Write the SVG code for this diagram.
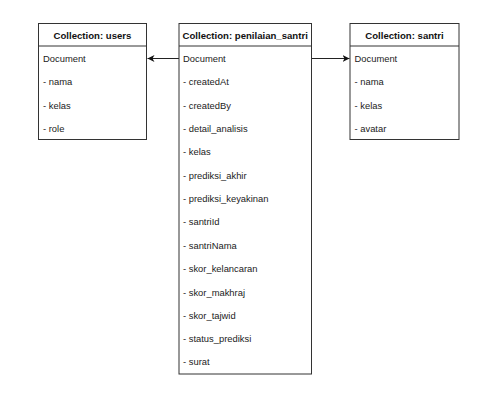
<svg xmlns="http://www.w3.org/2000/svg" width="481" height="409" viewBox="0 0 481 409">
<defs>
<style>
.box{fill:#fff;stroke:#333;stroke-width:1}
.sep{stroke:#333;stroke-width:1}
.t{font-family:"Liberation Sans",Arial,sans-serif;font-size:9.4px;fill:#222}
.h{font-family:"Liberation Sans",Arial,sans-serif;font-size:9.6px;font-weight:bold;fill:#111;text-anchor:middle}
.c{stroke:#222;stroke-width:1;fill:none}
</style>
<marker id="ah" markerWidth="8" markerHeight="8" refX="7" refY="4" orient="auto" markerUnits="userSpaceOnUse">
<path d="M0,0.5 L7,4 L0,7.5 L2,4 Z" fill="#111"/>
</marker>
</defs>
<rect width="481" height="409" fill="#fff"/>
<g id="connectors">
<line class="c" x1="179" y1="58.5" x2="147.5" y2="58.5" marker-end="url(#ah)"/>
<line class="c" x1="311.5" y1="58.5" x2="349.5" y2="58.5" marker-end="url(#ah)"/>
</g>
<g id="users">
<rect class="box" x="38.5" y="23.5" width="108" height="116"/>
<line class="sep" x1="38.5" y1="46" x2="146.5" y2="46"/>
<text class="h" x="92.5" y="38.5">Collection: users</text>
<text class="t" x="43" y="61.5">Document</text>
<text class="t" x="43" y="85">- nama</text>
<text class="t" x="43" y="108.5">- kelas</text>
<text class="t" x="43" y="131.5">- role</text>
</g>
<g id="penilaian_santri">
<rect class="box" x="179" y="23.5" width="132.5" height="350.5"/>
<line class="sep" x1="179" y1="46" x2="311.5" y2="46"/>
<text class="h" x="245.2" y="38.5">Collection: penilaian_santri</text>
<text class="t" x="183" y="61.5">Document</text>
<text class="t" x="183" y="85">- createdAt</text>
<text class="t" x="183" y="108.5">- createdBy</text>
<text class="t" x="183" y="131.5">- detail_analisis</text>
<text class="t" x="183" y="155">- kelas</text>
<text class="t" x="183" y="178.5">- prediksi_akhir</text>
<text class="t" x="183" y="201.5">- prediksi_keyakinan</text>
<text class="t" x="183" y="225">- santriId</text>
<text class="t" x="183" y="248.5">- santriNama</text>
<text class="t" x="183" y="272">- skor_kelancaran</text>
<text class="t" x="183" y="295.5">- skor_makhraj</text>
<text class="t" x="183" y="318.5">- skor_tajwid</text>
<text class="t" x="183" y="341.5">- status_prediksi</text>
<text class="t" x="183" y="365">- surat</text>
</g>
<g id="santri">
<rect class="box" x="350" y="23.5" width="109" height="116"/>
<line class="sep" x1="350" y1="46" x2="459" y2="46"/>
<text class="h" x="404.5" y="38.5">Collection: santri</text>
<text class="t" x="354.5" y="61.5">Document</text>
<text class="t" x="354.5" y="85">- nama</text>
<text class="t" x="354.5" y="108.5">- kelas</text>
<text class="t" x="354.5" y="131.5">- avatar</text>
</g>
</svg>
